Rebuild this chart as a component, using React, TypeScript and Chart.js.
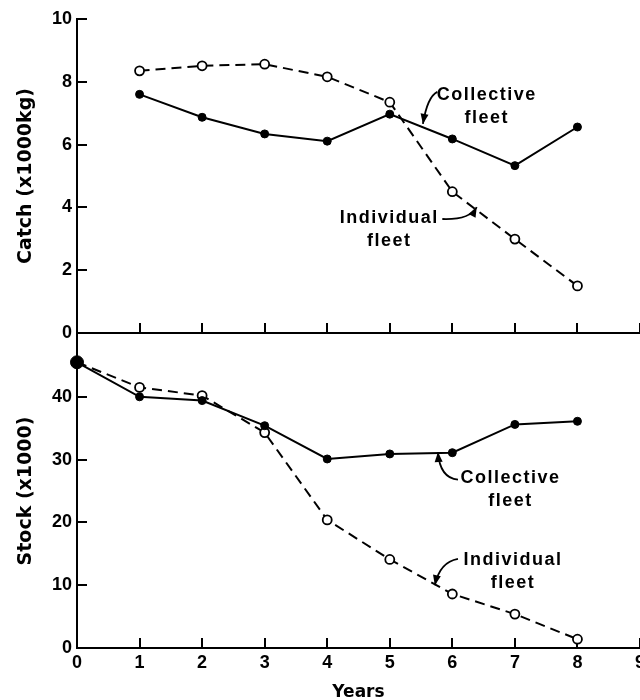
import React, { useEffect, useRef } from 'react';
import { Chart, registerables } from 'chart.js';
Chart.register(...registerables);

const catchYears = [1, 2, 3, 4, 5, 6, 7, 8];
const catchCollective = [7.6, 6.87, 6.34, 6.11, 6.97, 6.18, 5.33, 6.56];
const catchIndividual = [8.35, 8.51, 8.56, 8.16, 7.35, 4.5, 2.99, 1.5];

const stockYears = [0, 1, 2, 3, 4, 5, 6, 7, 8];
const stockCollective = [45.5, 40.0, 39.4, 35.4, 30.1, 30.9, 31.1, 35.6, 36.1];
const stockIndividual = [45.5, 41.5, 40.2, 34.3, 20.4, 14.1, 8.6, 5.4, 1.4];

const yearTicks = [0, 1, 2, 3, 4, 5, 6, 7, 8, 9];
const catchTicks = [0, 2, 4, 6, 8, 10];
const stockTicks = [0, 10, 20, 30, 40];

type Note = {
  lines: string[];
  x: number;
  y: number;
  from: [number, number];
  ctrl: [number, number];
  tip: [number, number];
};

const catchNotes: Note[] = [
  { lines: ['Collective', 'fleet'], x: 6.55, y: 7.58, from: [5.76, 7.68], ctrl: [5.6, 7.52], tip: [5.53, 6.66] },
  { lines: ['Individual', 'fleet'], x: 4.99, y: 3.66, from: [5.84, 3.63], ctrl: [6.28, 3.6], tip: [6.39, 4.01] },
];
const stockNotes: Note[] = [
  { lines: ['Collective', 'fleet'], x: 6.93, y: 27.1, from: [6.09, 26.8], ctrl: [5.8, 27.1], tip: [5.77, 31.2] },
  { lines: ['Individual', 'fleet'], x: 6.97, y: 14.0, from: [6.09, 14.2], ctrl: [5.8, 13.7], tip: [5.72, 10.0] },
];

const FONT = '"Liberation Sans", Arial, sans-serif';
const TITLE_FONT = '"DejaVu Sans", sans-serif';

const notesPlugin = {
  id: 'fleetNotes',
  afterDraw(chart: any, _args: any, opts: any) {
    const notes: Note[] = opts.notes || [];
    const { ctx } = chart;
    const xs = chart.scales.x;
    const ys = chart.scales.y;
    ctx.save();
    ctx.fillStyle = '#000';
    ctx.strokeStyle = '#000';
    for (const n of notes) {
      ctx.font = `bold 18px ${FONT}`;
      (ctx as any).letterSpacing = '1.5px';
      ctx.textAlign = 'center';
      ctx.textBaseline = 'middle';
      const cx = xs.getPixelForValue(n.x);
      const cy = ys.getPixelForValue(n.y);
      n.lines.forEach((t, i) => ctx.fillText(t, cx, cy + i * 23));
      const fx = xs.getPixelForValue(n.from[0]);
      const fy = ys.getPixelForValue(n.from[1]);
      const qx = xs.getPixelForValue(n.ctrl[0]);
      const qy = ys.getPixelForValue(n.ctrl[1]);
      const tx = xs.getPixelForValue(n.tip[0]);
      const ty = ys.getPixelForValue(n.tip[1]);
      ctx.lineWidth = 1.8;
      ctx.beginPath();
      ctx.moveTo(fx, fy);
      ctx.quadraticCurveTo(qx, qy, tx, ty);
      ctx.stroke();
      const a = Math.atan2(ty - qy, tx - qx);
      const L = 10;
      const W = 4;
      ctx.beginPath();
      ctx.moveTo(tx, ty);
      ctx.lineTo(tx - L * Math.cos(a) + W * Math.sin(a), ty - L * Math.sin(a) - W * Math.cos(a));
      ctx.lineTo(tx - L * Math.cos(a) - W * Math.sin(a), ty - L * Math.sin(a) + W * Math.cos(a));
      ctx.closePath();
      ctx.fill();
    }
    ctx.restore();
  },
};

function datasets(years: number[], coll: number[], indiv: number[]) {
  return [
    {
      data: years.map((x, i) => ({ x, y: coll[i] })),
      borderColor: '#000',
      borderWidth: 2,
      backgroundColor: '#000',
      pointBackgroundColor: '#000',
      pointBorderColor: '#000',
      pointRadius: (c: any) => (c.dataIndex === 0 && years[0] === 0 ? 6.5 : 4),
      pointBorderWidth: 1,
      tension: 0,
      clip: false,
    },
    {
      data: years.map((x, i) => ({ x, y: indiv[i] })),
      borderColor: '#000',
      borderWidth: 2,
      borderDash: [10, 6],
      backgroundColor: '#fff',
      pointBackgroundColor: '#fff',
      pointBorderColor: '#000',
      pointRadius: 4.5,
      pointBorderWidth: 1.8,
      tension: 0,
      clip: false,
    },
  ];
}

const axisGrid = { drawOnChartArea: false, tickLength: -10, color: '#000', tickColor: '#000', tickWidth: 2, lineWidth: 2 };
const axisBorder = { display: true, color: '#000', width: 2 };
const tickFont = { family: FONT, size: 18, weight: 'bold' as const };

function makeOptions(panel: 'catch' | 'stock') {
  const isCatch = panel === 'catch';
  return {
    animation: false,
    responsive: false,
    devicePixelRatio: 1,
    layout: { autoPadding: false, padding: { top: isCatch ? 19 : 334, left: 0, right: 0, bottom: 0 } },
    plugins: {
      legend: { display: false },
      tooltip: { enabled: false },
      fleetNotes: { notes: isCatch ? catchNotes : stockNotes },
    },
    scales: {
      x: {
        type: 'linear',
        min: 0,
        max: 9,
        afterBuildTicks: (s: any) => {
          s.ticks = yearTicks.map((v) => ({ value: v }));
        },
        afterFit: (s: any) => {
          s.height = isCatch ? 700 - 333 : 700 - 648;
          s.paddingLeft = 0;
          s.paddingRight = 0;
        },
        grid: axisGrid,
        border: axisBorder,
        ticks: { display: !isCatch, color: '#000', font: tickFont, padding: 14, maxRotation: 0 },
        title: {
          display: !isCatch,
          text: 'Years',
          color: '#000',
          font: { family: TITLE_FONT, size: 17, weight: 'bold' as const },
          padding: { top: 0, bottom: -3 },
        },
      },
      y: {
        type: 'linear',
        min: 0,
        max: isCatch ? 10 : 50,
        afterBuildTicks: (s: any) => {
          s.ticks = (isCatch ? catchTicks : stockTicks).map((v) => ({ value: v }));
        },
        afterFit: (s: any) => {
          s.width = 77;
          s.paddingTop = 0;
          s.paddingBottom = 0;
        },
        grid: axisGrid,
        border: axisBorder,
        ticks: { color: '#000', font: tickFont, padding: 15 },
        title: {
          display: true,
          text: isCatch ? 'Catch (x1000kg)' : 'Stock (x1000)',
          color: '#000',
          font: { family: TITLE_FONT, size: 19, weight: 'bold' as const },
          padding: { top: 15, bottom: 0 },
        },
      },
    },
  };
}

export default function App() {
  const topRef = useRef<HTMLCanvasElement>(null);
  const botRef = useRef<HTMLCanvasElement>(null);

  useEffect(() => {
    const c1 = new Chart(topRef.current as HTMLCanvasElement, {
      type: 'line',
      data: { datasets: datasets(catchYears, catchCollective, catchIndividual) as any },
      options: makeOptions('catch') as any,
      plugins: [notesPlugin],
    });
    const c2 = new Chart(botRef.current as HTMLCanvasElement, {
      type: 'line',
      data: { datasets: datasets(stockYears, stockCollective, stockIndividual) as any },
      options: makeOptions('stock') as any,
      plugins: [notesPlugin],
    });
    return () => {
      c1.destroy();
      c2.destroy();
    };
  }, []);

  const cs: React.CSSProperties = { position: 'absolute', left: 0, top: 0, width: 640, height: 700 };
  return (
    <div style={{ position: 'fixed', left: 0, top: 0, width: 640, height: 700, background: '#fff', overflow: 'hidden' }}>
      <canvas ref={botRef} width={640} height={700} style={cs} />
      <canvas ref={topRef} width={640} height={700} style={cs} />
    </div>
  );
}
